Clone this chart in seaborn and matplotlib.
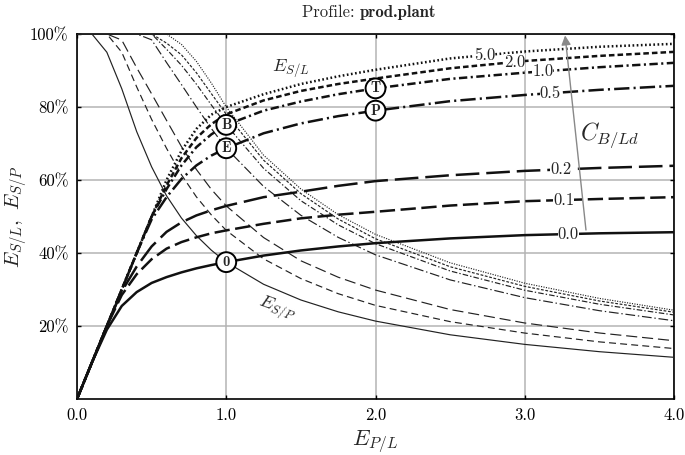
import numpy as np
import matplotlib
matplotlib.use("Agg")
import matplotlib.pyplot as plt
import seaborn as sns

# x axis: E_P/L
e_pl = [0.0, 0.1, 0.2, 0.3, 0.4, 0.5, 0.6, 0.7, 0.8, 0.9, 1.0,
        1.25, 1.5, 1.75, 2.0, 2.5, 3.0, 3.5, 4.0]

# E_S/L (rising curves) per C_B/Ld, in %
esl_00 = [0, 10, 19, 25.5, 29.3, 31.8, 33.4, 34.7, 35.8, 36.7, 37.5,
          39.3, 40.7, 41.8, 42.7, 44.0, 44.9, 45.4, 45.7]
esl_01 = [0, 10, 20, 28.5, 34.2, 38.3, 41.2, 43.0, 44.3, 45.4, 46.2,
          48.0, 49.5, 50.5, 51.3, 53.0, 54.2, 54.8, 55.3]
esl_02 = [0, 10, 20, 29.5, 36.3, 41.8, 45.8, 48.4, 50.3, 51.7, 52.9,
          55.3, 56.8, 58.4, 59.7, 61.3, 62.5, 63.3, 63.9]
esl_05 = [0, 10, 20, 30, 40, 49.2, 55.3, 60.3, 64.0, 66.7, 68.7,
          72.8, 75.5, 77.5, 79.0, 81.6, 83.3, 84.7, 85.8]
esl_10 = [0, 10, 20, 30, 40, 50, 57.5, 64.0, 69.0, 72.5, 75.1,
          79.0, 81.5, 83.5, 85.1, 87.7, 89.4, 90.9, 92.1]
esl_20 = [0, 10, 20, 30, 40, 50, 58.5, 66.0, 71.5, 75.3, 78.0,
          81.8, 84.4, 86.3, 87.8, 90.6, 92.6, 94.0, 95.1]
esl_50 = [0, 10, 20, 30, 40, 50, 60, 68.0, 74.0, 77.9, 80.0,
          83.5, 86.3, 88.4, 90.2, 93.3, 95.2, 96.5, 97.3]

# E_S/P (falling curves) per C_B/Ld, in %
esp_00 = [100, 100, 95, 85, 73.25, 63.6, 55.67, 49.57, 44.75, 40.78, 37.5,
          31.44, 27.13, 23.89, 21.35, 17.6, 14.97, 12.97, 11.43]
esp_01 = [100, 100, 100, 95, 85.5, 76.6, 68.67, 61.43, 55.38, 50.44, 46.2,
          38.4, 33, 28.86, 25.65, 21.2, 18.07, 15.66, 13.83]
esp_02 = [100, 100, 100, 98.33, 90.75, 83.6, 76.33, 69.14, 62.88, 57.44, 52.9,
          44.24, 37.87, 33.37, 29.85, 24.52, 20.83, 18.09, 15.98]
esp_05 = [100, 100, 100, 100, 100, 98.4, 92.17, 86.14, 80, 74.11, 68.7,
          58.24, 50.33, 44.29, 39.5, 32.64, 27.77, 24.2, 21.45]
esp_10 = [100, 100, 100, 100, 100, 100, 95.83, 91.43, 86.25, 80.56, 75.1,
          63.2, 54.33, 47.71, 42.55, 35.08, 29.8, 25.97, 23.03]
esp_20 = [100, 100, 100, 100, 100, 100, 97.5, 94.29, 89.38, 83.67, 78,
          65.44, 56.27, 49.31, 43.9, 36.24, 30.87, 26.86, 23.78]
esp_50 = [100, 100, 100, 100, 100, 100, 100, 97.14, 92.5, 86.56, 80,
          66.8, 57.53, 50.51, 45.1, 37.32, 31.73, 27.57, 24.33]

c_labels = ['0.0', '0.1', '0.2', '0.5', '1.0', '2.0', '5.0']
label_x = [3.29, 3.26, 3.24, 3.17, 3.12, 2.93, 2.73]

x_ticks = [0, 1, 2, 3, 4]
y_ticks = [20, 40, 60, 80, 100]

sns.set_theme(style="white")
plt.rcParams['font.family'] = ['cmr10', 'DejaVu Serif']
plt.rcParams['mathtext.fontset'] = 'cm'
plt.rcParams['axes.unicode_minus'] = False
plt.rcParams['lines.scale_dashes'] = False

fig = plt.figure(figsize=(6.85, 4.55), dpi=100)
ax = fig.add_axes([0.1124, 0.123, 0.8716, 0.8023])

# 굵은 선(E_S/L), 얇은 선(E_S/P) 스타일
thick_styles = ['-', (0, (11, 4)), (0, (17, 5)), (0, (11, 3, 1.5, 3)),
                (0, (6, 2.5, 1.5, 2.5)), (0, (4, 2.2)), (0, (1.2, 1.8))]
thin_styles = ['-', (0, (5, 3)), (0, (8, 3.5)), (0, (7, 2, 1, 2)),
               (0, (4, 1.5, 1, 1.5)), (0, (2, 1.2)), (0, (0.8, 1))]

rising = [esl_00, esl_01, esl_02, esl_05, esl_10, esl_20, esl_50]
falling = [esp_00, esp_01, esp_02, esp_05, esp_10, esp_20, esp_50]

for i in range(7):
    sns.lineplot(x=e_pl, y=falling[i], ax=ax, color='#222222', lw=0.85,
                 linestyle=thin_styles[i], zorder=3)
    sns.lineplot(x=e_pl, y=rising[i], ax=ax, color='#111111', lw=1.8,
                 linestyle=thick_styles[i], zorder=4)

# 곡선 위 라벨 (C 값)
for i in range(7):
    yy = np.interp(label_x[i], e_pl, rising[i])
    ax.text(label_x[i], yy, c_labels[i], ha='center', va='center',
            fontsize=12, zorder=6,
            bbox=dict(boxstyle='square,pad=0.0', fc='white', ec='none'))

# 원 표시 (B, E, T, P, 0)
i1 = e_pl.index(1.0)
i2 = e_pl.index(2.0)
marks = [('0', i1, esl_00), ('E', i1, esl_05), ('B', i1, esl_10),
         ('P', i2, esl_05), ('T', i2, esl_10)]
for name, idx, arr in marks:
    ax.text(e_pl[idx], arr[idx], name, fontfamily='cmb10', ha='center', va='center',
            fontsize=10.5, zorder=7,
            bbox=dict(boxstyle='circle,pad=0.2', fc='white', ec='black', lw=1.4))

# 화살표와 C_B/Ld
ax.annotate('', xy=(3.27, 99.6), xytext=(3.41, 46.3),
            arrowprops=dict(arrowstyle='-|>', color='#888888', lw=1.0,
                            mutation_scale=14, shrinkA=0, shrinkB=0), zorder=5)
ax.text(3.57, 72.3, r'$C_{B/Ld}$', fontsize=17, ha='center', va='center', zorder=6)
ax.text(1.43, 90.7, r'$E_{S/L}$', fontsize=13, ha='center', va='center', zorder=6)
ax.text(1.34, 24.8, r'$E_{S/P}$', fontsize=13, ha='center', va='center',
        rotation=-20, zorder=6)

ax.set_xlim(0, 4)
ax.set_ylim(0, 100)
ax.set_xticks(x_ticks)
ax.set_xticklabels([f'{v:.1f}' for v in x_ticks])
ax.set_yticks(y_ticks)
ax.set_yticklabels([f'{v}%' for v in y_ticks])
ax.tick_params(axis='both', labelsize=12, direction='in', length=3, width=1,
               top=True, right=True, bottom=True, left=True, colors='black',
               labelcolor='black', pad=6)
ax.grid(True, color='#b4b4b4', lw=1.1)
ax.set_axisbelow(True)
for s in ax.spines.values():
    s.set_color('black')
    s.set_linewidth(1.2)

ax.set_xlabel(r'$E_{P/L}$', fontsize=16, labelpad=4)
ax.set_ylabel(r'$E_{S/L},\ E_{S/P}$', fontsize=15)
ax.yaxis.set_label_coords(-0.078, 0.5)

# 제목: 일반체 + 굵은체
bold = fig.text(0.5255, 0.972, 'prod.plant', fontfamily='cmb10', fontsize=12,
                ha='left', va='center')
ax.annotate('Profile: ', xy=(0, 0.5), xycoords=bold, fontsize=12,
            ha='right', va='center')

fig.savefig('out.png', dpi=100)
